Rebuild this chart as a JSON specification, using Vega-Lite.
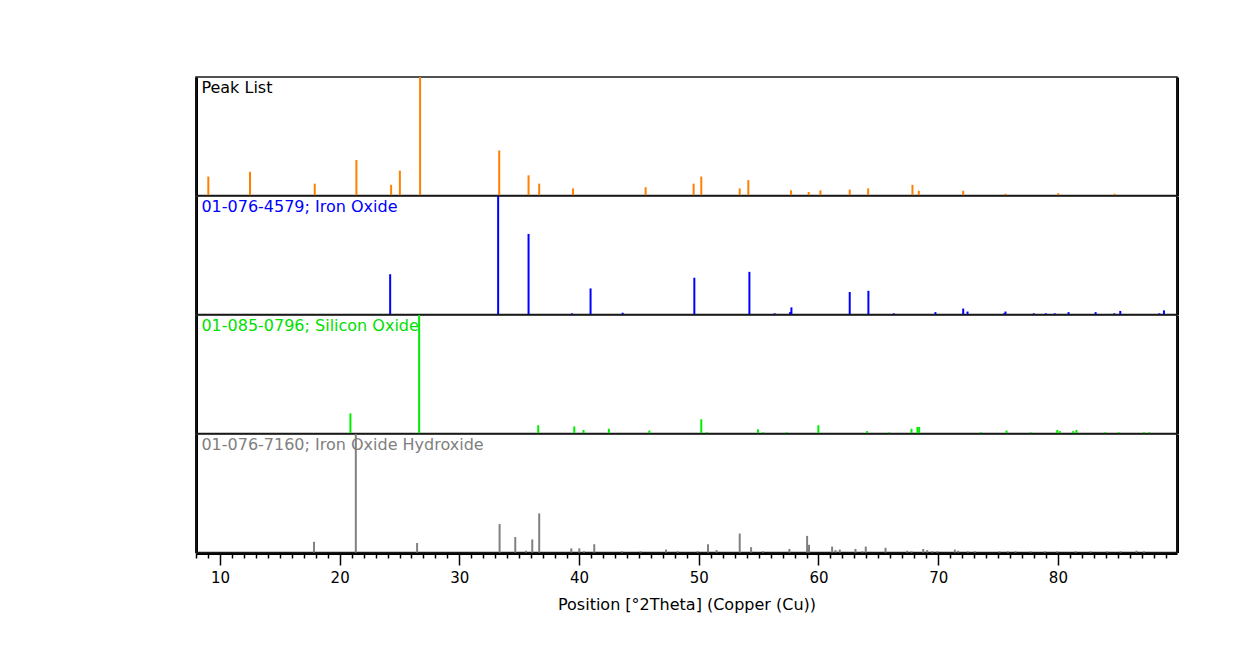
{
  "$schema": "https://vega.github.io/schema/vega-lite/v6.json",
  "padding": {"left": 195, "top": 75, "right": 5, "bottom": 5},
  "background": "white",
  "bounds": "flush",
  "config": {
    "view": {"stroke": "#1a1a1a", "strokeWidth": 1.5},
    "font": "DejaVu Sans",
    "axisX": {
      "orient": "bottom",
      "titleFont": "DejaVu Sans",
      "titleFontSize": 16,
      "titleFontWeight": "normal",
      "titleColor": "#000000",
      "titlePadding": 11,
      "labelOverlap": false,
      "labelFont": "DejaVu Sans",
      "labelFontSize": 15,
      "labelColor": "#000000",
      "labelPadding": 5,
      "labelFlush": false,
      "tickColor": "#000000",
      "tickWidth": 1.5,
      "domainColor": "#000000",
      "domainWidth": 3,
      "grid": false
    }
  },
  "data": {
    "values": [
      {"phase": "Peak List", "pos": 9.03, "int": 16},
      {"phase": "Peak List", "pos": 12.51, "int": 20},
      {"phase": "Peak List", "pos": 17.92, "int": 10},
      {"phase": "Peak List", "pos": 21.40, "int": 30},
      {"phase": "Peak List", "pos": 24.30, "int": 9},
      {"phase": "Peak List", "pos": 25.03, "int": 21},
      {"phase": "Peak List", "pos": 26.72, "int": 100},
      {"phase": "Peak List", "pos": 33.33, "int": 38},
      {"phase": "Peak List", "pos": 35.78, "int": 17},
      {"phase": "Peak List", "pos": 36.67, "int": 10},
      {"phase": "Peak List", "pos": 39.49, "int": 6},
      {"phase": "Peak List", "pos": 45.56, "int": 7},
      {"phase": "Peak List", "pos": 49.57, "int": 10},
      {"phase": "Peak List", "pos": 50.21, "int": 16},
      {"phase": "Peak List", "pos": 53.42, "int": 6},
      {"phase": "Peak List", "pos": 54.14, "int": 13},
      {"phase": "Peak List", "pos": 57.71, "int": 4.4},
      {"phase": "Peak List", "pos": 59.18, "int": 3},
      {"phase": "Peak List", "pos": 60.16, "int": 4.4},
      {"phase": "Peak List", "pos": 62.61, "int": 5},
      {"phase": "Peak List", "pos": 64.15, "int": 6},
      {"phase": "Peak List", "pos": 67.85, "int": 9},
      {"phase": "Peak List", "pos": 68.38, "int": 4},
      {"phase": "Peak List", "pos": 72.09, "int": 4},
      {"phase": "Peak List", "pos": 75.63, "int": 1.5},
      {"phase": "Peak List", "pos": 80.03, "int": 2},
      {"phase": "Peak List", "pos": 84.74, "int": 1.5},

      {"phase": "01-076-4579; Iron Oxide", "pos": 24.22, "int": 34},
      {"phase": "01-076-4579; Iron Oxide", "pos": 33.24, "int": 100},
      {"phase": "01-076-4579; Iron Oxide", "pos": 35.78, "int": 68},
      {"phase": "01-076-4579; Iron Oxide", "pos": 39.40, "int": 1},
      {"phase": "01-076-4579; Iron Oxide", "pos": 40.96, "int": 22},
      {"phase": "01-076-4579; Iron Oxide", "pos": 43.64, "int": 1.5},
      {"phase": "01-076-4579; Iron Oxide", "pos": 49.63, "int": 31},
      {"phase": "01-076-4579; Iron Oxide", "pos": 54.23, "int": 36},
      {"phase": "01-076-4579; Iron Oxide", "pos": 56.34, "int": 1},
      {"phase": "01-076-4579; Iron Oxide", "pos": 57.63, "int": 2},
      {"phase": "01-076-4579; Iron Oxide", "pos": 57.74, "int": 6},
      {"phase": "01-076-4579; Iron Oxide", "pos": 62.61, "int": 19},
      {"phase": "01-076-4579; Iron Oxide", "pos": 64.17, "int": 20},
      {"phase": "01-076-4579; Iron Oxide", "pos": 66.29, "int": 1},
      {"phase": "01-076-4579; Iron Oxide", "pos": 69.77, "int": 2},
      {"phase": "01-076-4579; Iron Oxide", "pos": 72.09, "int": 5},
      {"phase": "01-076-4579; Iron Oxide", "pos": 72.45, "int": 2.5},
      {"phase": "01-076-4579; Iron Oxide", "pos": 75.51, "int": 1},
      {"phase": "01-076-4579; Iron Oxide", "pos": 75.62, "int": 2.5},
      {"phase": "01-076-4579; Iron Oxide", "pos": 77.98, "int": 1},
      {"phase": "01-076-4579; Iron Oxide", "pos": 78.99, "int": 1},
      {"phase": "01-076-4579; Iron Oxide", "pos": 79.74, "int": 1},
      {"phase": "01-076-4579; Iron Oxide", "pos": 80.89, "int": 2},
      {"phase": "01-076-4579; Iron Oxide", "pos": 83.15, "int": 2},
      {"phase": "01-076-4579; Iron Oxide", "pos": 84.71, "int": 1},
      {"phase": "01-076-4579; Iron Oxide", "pos": 85.21, "int": 3},
      {"phase": "01-076-4579; Iron Oxide", "pos": 88.47, "int": 1},
      {"phase": "01-076-4579; Iron Oxide", "pos": 88.86, "int": 3.5},

      {"phase": "01-085-0796; Silicon Oxide", "pos": 20.90, "int": 17},
      {"phase": "01-085-0796; Silicon Oxide", "pos": 26.64, "int": 100},
      {"phase": "01-085-0796; Silicon Oxide", "pos": 36.59, "int": 7},
      {"phase": "01-085-0796; Silicon Oxide", "pos": 39.60, "int": 6},
      {"phase": "01-085-0796; Silicon Oxide", "pos": 40.37, "int": 3},
      {"phase": "01-085-0796; Silicon Oxide", "pos": 42.49, "int": 4},
      {"phase": "01-085-0796; Silicon Oxide", "pos": 45.87, "int": 2.5},
      {"phase": "01-085-0796; Silicon Oxide", "pos": 50.21, "int": 12},
      {"phase": "01-085-0796; Silicon Oxide", "pos": 50.69, "int": 1},
      {"phase": "01-085-0796; Silicon Oxide", "pos": 54.95, "int": 3.5},
      {"phase": "01-085-0796; Silicon Oxide", "pos": 55.40, "int": 1},
      {"phase": "01-085-0796; Silicon Oxide", "pos": 57.32, "int": 1},
      {"phase": "01-085-0796; Silicon Oxide", "pos": 59.99, "int": 7},
      {"phase": "01-085-0796; Silicon Oxide", "pos": 64.06, "int": 2},
      {"phase": "01-085-0796; Silicon Oxide", "pos": 65.87, "int": 1},
      {"phase": "01-085-0796; Silicon Oxide", "pos": 67.77, "int": 4},
      {"phase": "01-085-0796; Silicon Oxide", "pos": 68.27, "int": 5.5},
      {"phase": "01-085-0796; Silicon Oxide", "pos": 68.41, "int": 5.5},
      {"phase": "01-085-0796; Silicon Oxide", "pos": 73.56, "int": 1},
      {"phase": "01-085-0796; Silicon Oxide", "pos": 75.71, "int": 2.5},
      {"phase": "01-085-0796; Silicon Oxide", "pos": 77.72, "int": 1},
      {"phase": "01-085-0796; Silicon Oxide", "pos": 79.95, "int": 3},
      {"phase": "01-085-0796; Silicon Oxide", "pos": 80.16, "int": 2},
      {"phase": "01-085-0796; Silicon Oxide", "pos": 81.28, "int": 2},
      {"phase": "01-085-0796; Silicon Oxide", "pos": 81.55, "int": 3},
      {"phase": "01-085-0796; Silicon Oxide", "pos": 83.93, "int": 1},
      {"phase": "01-085-0796; Silicon Oxide", "pos": 85.10, "int": 1},
      {"phase": "01-085-0796; Silicon Oxide", "pos": 87.19, "int": 1},
      {"phase": "01-085-0796; Silicon Oxide", "pos": 87.61, "int": 1},

      {"phase": "01-076-7160; Iron Oxide Hydroxide", "pos": 17.86, "int": 9},
      {"phase": "01-076-7160; Iron Oxide Hydroxide", "pos": 21.35, "int": 100},
      {"phase": "01-076-7160; Iron Oxide Hydroxide", "pos": 26.47, "int": 8},
      {"phase": "01-076-7160; Iron Oxide Hydroxide", "pos": 33.36, "int": 24},
      {"phase": "01-076-7160; Iron Oxide Hydroxide", "pos": 34.67, "int": 13},
      {"phase": "01-076-7160; Iron Oxide Hydroxide", "pos": 35.56, "int": 1.5},
      {"phase": "01-076-7160; Iron Oxide Hydroxide", "pos": 36.09, "int": 11},
      {"phase": "01-076-7160; Iron Oxide Hydroxide", "pos": 36.67, "int": 33},
      {"phase": "01-076-7160; Iron Oxide Hydroxide", "pos": 39.35, "int": 3.5},
      {"phase": "01-076-7160; Iron Oxide Hydroxide", "pos": 40.02, "int": 3.5},
      {"phase": "01-076-7160; Iron Oxide Hydroxide", "pos": 40.41, "int": 1},
      {"phase": "01-076-7160; Iron Oxide Hydroxide", "pos": 41.27, "int": 7},
      {"phase": "01-076-7160; Iron Oxide Hydroxide", "pos": 43.58, "int": 1},
      {"phase": "01-076-7160; Iron Oxide Hydroxide", "pos": 45.14, "int": 1},
      {"phase": "01-076-7160; Iron Oxide Hydroxide", "pos": 47.26, "int": 2.5},
      {"phase": "01-076-7160; Iron Oxide Hydroxide", "pos": 48.24, "int": 1},
      {"phase": "01-076-7160; Iron Oxide Hydroxide", "pos": 49.91, "int": 1},
      {"phase": "01-076-7160; Iron Oxide Hydroxide", "pos": 50.77, "int": 7},
      {"phase": "01-076-7160; Iron Oxide Hydroxide", "pos": 51.49, "int": 2},
      {"phase": "01-076-7160; Iron Oxide Hydroxide", "pos": 53.42, "int": 16},
      {"phase": "01-076-7160; Iron Oxide Hydroxide", "pos": 54.37, "int": 4.5},
      {"phase": "01-076-7160; Iron Oxide Hydroxide", "pos": 55.37, "int": 1},
      {"phase": "01-076-7160; Iron Oxide Hydroxide", "pos": 57.57, "int": 3},
      {"phase": "01-076-7160; Iron Oxide Hydroxide", "pos": 59.05, "int": 14},
      {"phase": "01-076-7160; Iron Oxide Hydroxide", "pos": 59.21, "int": 6.5},
      {"phase": "01-076-7160; Iron Oxide Hydroxide", "pos": 61.14, "int": 5},
      {"phase": "01-076-7160; Iron Oxide Hydroxide", "pos": 61.42, "int": 2},
      {"phase": "01-076-7160; Iron Oxide Hydroxide", "pos": 61.78, "int": 2.5},
      {"phase": "01-076-7160; Iron Oxide Hydroxide", "pos": 63.09, "int": 3},
      {"phase": "01-076-7160; Iron Oxide Hydroxide", "pos": 63.67, "int": 1},
      {"phase": "01-076-7160; Iron Oxide Hydroxide", "pos": 63.95, "int": 5},
      {"phase": "01-076-7160; Iron Oxide Hydroxide", "pos": 65.60, "int": 4},
      {"phase": "01-076-7160; Iron Oxide Hydroxide", "pos": 67.41, "int": 1.5},
      {"phase": "01-076-7160; Iron Oxide Hydroxide", "pos": 67.77, "int": 1},
      {"phase": "01-076-7160; Iron Oxide Hydroxide", "pos": 68.75, "int": 3},
      {"phase": "01-076-7160; Iron Oxide Hydroxide", "pos": 69.08, "int": 2},
      {"phase": "01-076-7160; Iron Oxide Hydroxide", "pos": 69.50, "int": 1},
      {"phase": "01-076-7160; Iron Oxide Hydroxide", "pos": 69.94, "int": 1},
      {"phase": "01-076-7160; Iron Oxide Hydroxide", "pos": 71.39, "int": 2.5},
      {"phase": "01-076-7160; Iron Oxide Hydroxide", "pos": 71.67, "int": 1.5},
      {"phase": "01-076-7160; Iron Oxide Hydroxide", "pos": 72.48, "int": 1},
      {"phase": "01-076-7160; Iron Oxide Hydroxide", "pos": 73.06, "int": 1},
      {"phase": "01-076-7160; Iron Oxide Hydroxide", "pos": 75.12, "int": 1},
      {"phase": "01-076-7160; Iron Oxide Hydroxide", "pos": 75.82, "int": 1},
      {"phase": "01-076-7160; Iron Oxide Hydroxide", "pos": 76.46, "int": 1},
      {"phase": "01-076-7160; Iron Oxide Hydroxide", "pos": 77.72, "int": 1},
      {"phase": "01-076-7160; Iron Oxide Hydroxide", "pos": 78.91, "int": 1},
      {"phase": "01-076-7160; Iron Oxide Hydroxide", "pos": 79.95, "int": 1},
      {"phase": "01-076-7160; Iron Oxide Hydroxide", "pos": 81.48, "int": 1},
      {"phase": "01-076-7160; Iron Oxide Hydroxide", "pos": 82.73, "int": 1},
      {"phase": "01-076-7160; Iron Oxide Hydroxide", "pos": 84.13, "int": 1},
      {"phase": "01-076-7160; Iron Oxide Hydroxide", "pos": 85.24, "int": 1},
      {"phase": "01-076-7160; Iron Oxide Hydroxide", "pos": 86.57, "int": 1.5},
      {"phase": "01-076-7160; Iron Oxide Hydroxide", "pos": 87.19, "int": 1}
    ]
  },
  "facet": {
    "row": {
      "field": "phase",
      "type": "nominal",
      "sort": ["Peak List", "01-076-4579; Iron Oxide", "01-085-0796; Silicon Oxide", "01-076-7160; Iron Oxide Hydroxide"],
      "header": null
    }
  },
  "spacing": {"row": 0},
  "spec": {
    "width": 981,
    "height": 118.5,
    "layer": [
      {
        "mark": {"type": "rule", "strokeWidth": 2},
        "encoding": {
          "x": {
            "field": "pos",
            "type": "quantitative",
            "scale": {"domain": [8, 89.95], "nice": false, "zero": false},
            "axis": {
              "title": "Position [°2Theta] (Copper (Cu))",
              "values": [8,9,10,11,12,13,14,15,16,17,18,19,20,21,22,23,24,25,26,27,28,29,30,31,32,33,34,35,36,37,38,39,40,41,42,43,44,45,46,47,48,49,50,51,52,53,54,55,56,57,58,59,60,61,62,63,64,65,66,67,68,69,70,71,72,73,74,75,76,77,78,79,80,81,82,83,84,85,86,87,88,89],
              "labelExpr": "datum.value % 10 === 0 ? datum.label : ''",
              "tickSize": {"condition": {"test": "datum.value % 10 === 0", "value": 12}, "value": 5}
            }
          },
          "y": {
            "field": "int",
            "type": "quantitative",
            "scale": {"domain": [0, 100], "nice": false},
            "axis": {"orient": "left", "labels": false, "ticks": false, "grid": false, "title": null, "domainColor": "#000000", "domainWidth": 3}
          },
          "y2": {"datum": 0},
          "color": {
            "field": "phase",
            "type": "nominal",
            "scale": {
              "domain": ["Peak List", "01-076-4579; Iron Oxide", "01-085-0796; Silicon Oxide", "01-076-7160; Iron Oxide Hydroxide"],
              "range": ["#FF8000", "#0000FF", "#00EE00", "#808080"]
            },
            "legend": null
          }
        }
      },
      {
        "transform": [
          {"aggregate": [{"op": "count", "as": "n"}], "groupby": ["phase"]}
        ],
        "mark": {"type": "text", "align": "left", "baseline": "top", "font": "DejaVu Sans", "fontSize": 16, "dy": 3},
        "encoding": {
          "x": {
            "datum": 8.45,
            "type": "quantitative",
            "axis": {
              "title": "Position [°2Theta] (Copper (Cu))",
              "values": [8,9,10,11,12,13,14,15,16,17,18,19,20,21,22,23,24,25,26,27,28,29,30,31,32,33,34,35,36,37,38,39,40,41,42,43,44,45,46,47,48,49,50,51,52,53,54,55,56,57,58,59,60,61,62,63,64,65,66,67,68,69,70,71,72,73,74,75,76,77,78,79,80,81,82,83,84,85,86,87,88,89],
              "labelExpr": "datum.value % 10 === 0 ? datum.label : ''",
              "tickSize": {"condition": {"test": "datum.value % 10 === 0", "value": 12}, "value": 5}
            }
          },
          "y": {
            "datum": 100,
            "type": "quantitative",
            "axis": {"orient": "right", "labels": false, "ticks": false, "grid": false, "title": null, "domainColor": "#000000", "domainWidth": 3}
          },
          "text": {"field": "phase", "type": "nominal"},
          "color": {
            "field": "phase",
            "type": "nominal",
            "scale": {
              "domain": ["Peak List", "01-076-4579; Iron Oxide", "01-085-0796; Silicon Oxide", "01-076-7160; Iron Oxide Hydroxide"],
              "range": ["#000000", "#0000FF", "#00E000", "#808080"]
            },
            "legend": null
          }
        }
      }
    ],
    "resolve": {"axis": {"y": "independent"}, "scale": {"color": "independent"}}
  }
}
